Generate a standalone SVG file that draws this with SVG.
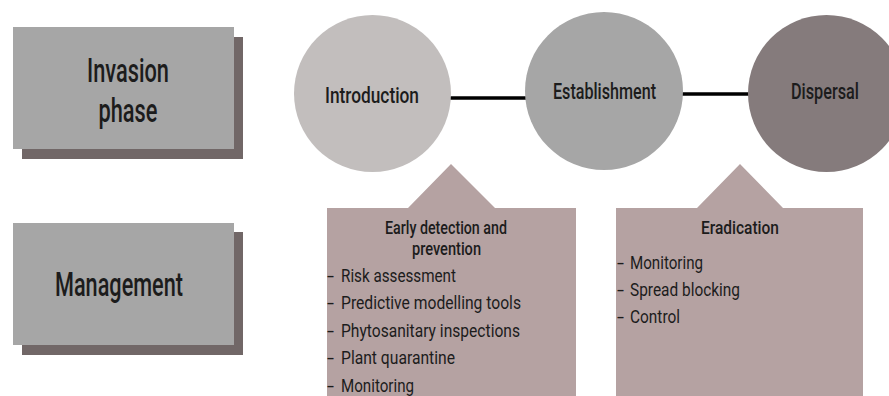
<svg xmlns="http://www.w3.org/2000/svg" width="889" height="396" viewBox="0 0 889 396">
<style>
text{font-family:Roboto,"Liberation Sans",sans-serif;fill:#1c1c1c}
.lab{fill:#a6a6a6}
.shadow{fill:#716767}
.big{font-size:33px;text-anchor:middle;font-weight:500}
.node{font-size:22.5px;text-anchor:middle;font-weight:500}
.head{font-size:18.5px;font-weight:500;text-anchor:middle}
.item{font-size:18px}
.box{fill:#b5a2a2}
.conn{stroke:#000;stroke-width:3.5;fill:none}
</style>
<rect width="889" height="396" fill="#fff"/>
<g id="invasion-phase">
<rect class="shadow" x="22" y="37" width="221" height="122"/>
<rect class="lab" x="13" y="27" width="221" height="122"/>
<text class="big" x="128" y="82" textLength="82" lengthAdjust="spacingAndGlyphs">Invasion</text>
<text class="big" x="128" y="122" textLength="59" lengthAdjust="spacingAndGlyphs">phase</text>
</g>
<g id="management">
<rect class="shadow" x="22" y="232" width="221" height="123"/>
<rect class="lab" x="13" y="223" width="221" height="122"/>
<text class="big" x="119" y="296" textLength="128" lengthAdjust="spacingAndGlyphs">Management</text>
</g>
<g id="connectors">
<line class="conn" x1="450" y1="98" x2="526" y2="98"/>
<line class="conn" x1="682" y1="94" x2="749" y2="94"/>
</g>
<g id="introduction">
<circle cx="372.5" cy="93.5" r="78.5" fill="#c2bebd"/>
<text class="node" x="372" y="103" textLength="94" lengthAdjust="spacingAndGlyphs">Introduction</text>
</g>
<g id="establishment">
<circle cx="604" cy="91" r="79" fill="#a6a6a6"/>
<text class="node" x="604.5" y="99" textLength="103" lengthAdjust="spacingAndGlyphs">Establishment</text>
</g>
<g id="dispersal">
<circle cx="826.5" cy="93.5" r="78.5" fill="#857b7c"/>
<text class="node" x="825" y="99" textLength="68" lengthAdjust="spacingAndGlyphs">Dispersal</text>
</g>
<g id="early-detection">
<path class="box" d="M327 208 H408 L451 164 L495 208 H576 V396 H327 Z"/>
<text class="head" x="446" y="234" textLength="122" lengthAdjust="spacingAndGlyphs">Early detection and</text>
<text class="head" x="446.5" y="255" textLength="69" lengthAdjust="spacingAndGlyphs">prevention</text>
<text class="item" x="327" y="282"><tspan textLength="7" lengthAdjust="spacingAndGlyphs">-</tspan> <tspan x="341" textLength="115" lengthAdjust="spacingAndGlyphs">Risk assessment</tspan></text>
<text class="item" x="327" y="309"><tspan textLength="7" lengthAdjust="spacingAndGlyphs">-</tspan> <tspan x="341" textLength="180" lengthAdjust="spacingAndGlyphs">Predictive modelling tools</tspan></text>
<text class="item" x="327" y="337"><tspan textLength="7" lengthAdjust="spacingAndGlyphs">-</tspan> <tspan x="341" textLength="179" lengthAdjust="spacingAndGlyphs">Phytosanitary inspections</tspan></text>
<text class="item" x="327" y="364"><tspan textLength="7" lengthAdjust="spacingAndGlyphs">-</tspan> <tspan x="341" textLength="114" lengthAdjust="spacingAndGlyphs">Plant quarantine</tspan></text>
<text class="item" x="327" y="392"><tspan textLength="7" lengthAdjust="spacingAndGlyphs">-</tspan> <tspan x="341" textLength="73" lengthAdjust="spacingAndGlyphs">Monitoring</tspan></text>
</g>
<g id="eradication">
<path class="box" d="M616 208 H697 L740 164 L783 208 H863 V396 H616 Z"/>
<text class="head" x="740" y="234" textLength="78" lengthAdjust="spacingAndGlyphs">Eradication</text>
<text class="item" x="617" y="269"><tspan textLength="7" lengthAdjust="spacingAndGlyphs">-</tspan> <tspan x="630" textLength="73" lengthAdjust="spacingAndGlyphs">Monitoring</tspan></text>
<text class="item" x="617" y="296"><tspan textLength="7" lengthAdjust="spacingAndGlyphs">-</tspan> <tspan x="630" textLength="110" lengthAdjust="spacingAndGlyphs">Spread blocking</tspan></text>
<text class="item" x="617" y="323"><tspan textLength="7" lengthAdjust="spacingAndGlyphs">-</tspan> <tspan x="630" textLength="50" lengthAdjust="spacingAndGlyphs">Control</tspan></text>
</g>
</svg>
